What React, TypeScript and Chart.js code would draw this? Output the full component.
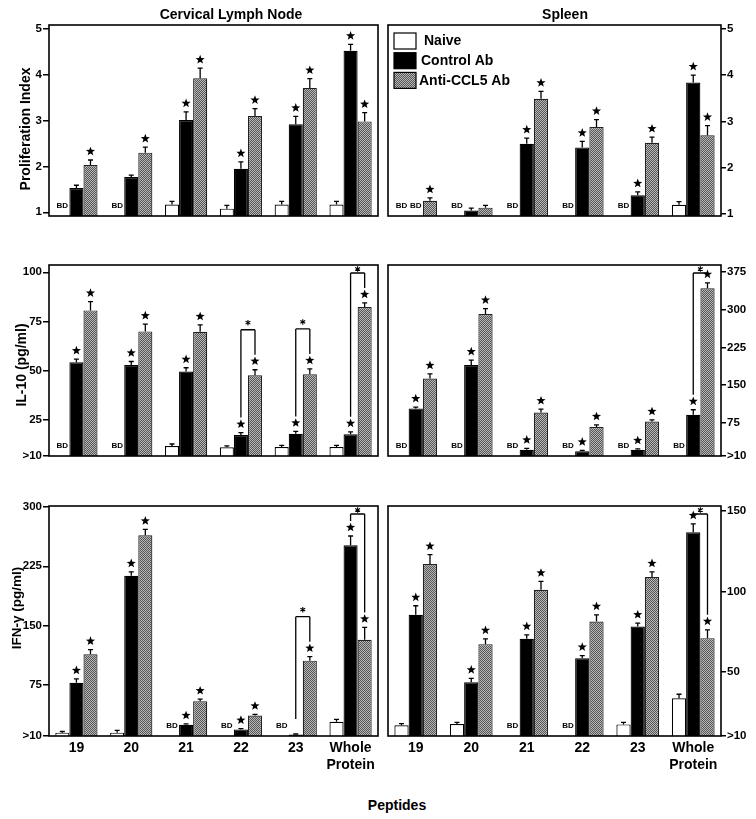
import React, { useEffect, useRef } from 'react';
import { Chart, registerables } from 'chart.js';
Chart.register(...registerables);

const FONT = '"Liberation Sans", Arial, Helvetica, sans-serif';

// ---------- categories / series ----------
const categories: (string | string[])[] = ['19', '20', '21', '22', '23', ['Whole', 'Protein']];
const seriesNames = ['Naive', 'Control Ab', 'Anti-CCL5 Ab'];

// ---------- Proliferation index, Cervical Lymph Node ----------
const prolifCLN_naive = [null, null, 1.17, 1.08, 1.17, 1.17];
const prolifCLN_naiveErr = [0, 0, 0.07, 0.07, 0.07, 0.07];
const prolifCLN_control = [1.53, 1.77, 3.01, 1.95, 2.92, 4.52];
const prolifCLN_controlErr = [0.06, 0.04, 0.18, 0.15, 0.17, 0.14];
const prolifCLN_anti = [2.03, 2.3, 3.92, 3.1, 3.71, 2.98];
const prolifCLN_antiErr = [0.11, 0.12, 0.22, 0.16, 0.2, 0.19];
const prolifCLN_controlStar = [0, 0, 1, 1, 1, 1];
const prolifCLN_antiStar = [1, 1, 1, 1, 1, 1];
const prolifCLN_brackets: number[] = [];

// ---------- Proliferation index, Spleen ----------
const prolifSpl_naive = [null, null, null, null, null, 1.2];
const prolifSpl_naiveErr = [0, 0, 0, 0, 0, 0.07];
const prolifSpl_control = [null, 1.08, 2.52, 2.44, 1.41, 3.84];
const prolifSpl_controlErr = [0, 0.05, 0.12, 0.13, 0.07, 0.16];
const prolifSpl_anti = [1.29, 1.14, 3.49, 2.88, 2.54, 2.7];
const prolifSpl_antiErr = [0.06, 0.05, 0.16, 0.16, 0.12, 0.21];
const prolifSpl_controlStar = [0, 0, 1, 1, 1, 1];
const prolifSpl_antiStar = [1, 0, 1, 1, 1, 1];
const prolifSpl_brackets: number[] = [];

const prolifTicks = [1, 2, 3, 4, 5];
const prolifTickLabels = ['1', '2', '3', '4', '5'];

// ---------- IL-10, Cervical Lymph Node ----------
const il10CLN_naive = [null, null, 11.6, 10.9, 11.1, 11.1];
const il10CLN_naiveErr = [0, 0, 1, 0.8, 0.8, 0.8];
const il10CLN_control = [54.2, 52.8, 49.5, 17.2, 17.8, 17.6];
const il10CLN_controlErr = [1.6, 1.8, 1.9, 1.2, 1.2, 1.2];
const il10CLN_anti = [80.6, 69.9, 69.7, 47.6, 48.1, 82.3];
const il10CLN_antiErr = [4.5, 3.7, 3.5, 2.8, 2.7, 2.1];
const il10CLN_controlStar = [1, 1, 1, 1, 1, 1];
const il10CLN_antiStar = [1, 1, 1, 1, 1, 1];
const il10CLN_brackets = [3, 4, 5];
const il10CLNTicks = [6.5, 25, 50, 75, 100];
const il10CLNTickLabels = ['>10', '25', '50', '75', '100'];

// ---------- IL-10, Spleen ----------
const il10Spl_naive = [null, null, null, null, null, null];
const il10Spl_naiveErr = [0, 0, 0, 0, 0, 0];
const il10Spl_control = [103.7, 190, 21.4, 18.6, 21.4, 91.1];
const il10Spl_controlErr = [2.7, 9.8, 2.7, 1.6, 1.6, 9.9];
const il10Spl_anti = [163, 291.5, 95.5, 66.8, 77.4, 342.6];
const il10Spl_antiErr = [9.3, 10.9, 6.6, 4, 3.3, 10.9];
const il10Spl_controlStar = [1, 1, 1, 1, 1, 1];
const il10Spl_antiStar = [1, 1, 1, 1, 1, 1];
const il10Spl_brackets = [5];
const il10SplTicks = [9, 75, 150, 225, 300, 375];
const il10SplTickLabels = ['>10', '75', '150', '225', '300', '375'];

// ---------- IFN-gamma, Cervical Lymph Node ----------
const ifnCLN_naive = [15.2, 15.2, null, null, null, 29];
const ifnCLN_naiveErr = [1.5, 2.9, 0, 0, 0, 3];
const ifnCLN_control = [78, 212.9, 25.2, 19.3, 13, 251.5];
const ifnCLN_controlErr = [5, 5, 1, 1, 0.5, 11.7];
const ifnCLN_anti = [114, 264, 54.9, 36.9, 106, 132.4];
const ifnCLN_antiErr = [5.9, 7.5, 2.5, 1.3, 5, 15.5];
const ifnCLN_controlStar = [1, 1, 1, 1, 0, 1];
const ifnCLN_antiStar = [1, 1, 1, 1, 1, 1];
const ifnCLN_brackets = [4, 5];
const ifnCLNTicks = [11, 75, 150, 225, 300];
const ifnCLNTickLabels = ['>10', '75', '150', '225', '300'];

// ---------- IFN-gamma, Spleen ----------
const ifnSpl_naive = [17, 17.7, null, null, 17.5, 33.7];
const ifnSpl_naiveErr = [1, 1, 0, 0, 1.2, 2.5];
const ifnSpl_control = [85.5, 43.6, 70.6, 58.6, 78.2, 136.7];
const ifnSpl_controlErr = [5.6, 2.5, 2.5, 1.6, 2.1, 5.2];
const ifnSpl_anti = [117, 67.3, 101, 81.3, 109, 71];
const ifnSpl_antiErr = [5.8, 3.3, 5.2, 4.2, 3.1, 5.2];
const ifnSpl_controlStar = [1, 1, 1, 1, 1, 1];
const ifnSpl_antiStar = [1, 1, 1, 1, 1, 1];
const ifnSpl_brackets = [5];
const ifnSplTicks = [10.3, 50, 100, 150];
const ifnSplTickLabels = ['>10', '50', '100', '150'];

const CAT_PCT = 0.77;

function makePattern(): any {
  const c = document.createElement('canvas');
  c.width = 2;
  c.height = 2;
  const x = c.getContext('2d')!;
  x.fillStyle = '#b8b8b8';
  x.fillRect(0, 0, 2, 2);
  x.fillStyle = '#555555';
  x.fillRect(0, 0, 1, 1);
  x.fillRect(1, 1, 1, 1);
  return x.createPattern(c, 'repeat');
}

function drawStar(ctx: CanvasRenderingContext2D, cx: number, cy: number, R: number) {
  const r = R * 0.42;
  ctx.beginPath();
  for (let k = 0; k < 10; k++) {
    const ang = -Math.PI / 2 + (k * Math.PI) / 5;
    const rad = k % 2 === 0 ? R : r;
    const px = cx + rad * Math.cos(ang);
    const py = cy + rad * Math.sin(ang);
    if (k === 0) ctx.moveTo(px, py);
    else ctx.lineTo(px, py);
  }
  ctx.closePath();
  ctx.fill();
}

function drawAsterisk(ctx: CanvasRenderingContext2D, cx: number, cy: number, r: number) {
  ctx.beginPath();
  for (let k = 0; k < 3; k++) {
    const ang = Math.PI / 2 + (k * Math.PI) / 3;
    ctx.moveTo(cx + r * Math.cos(ang), cy + r * Math.sin(ang));
    ctx.lineTo(cx - r * Math.cos(ang), cy - r * Math.sin(ang));
  }
  ctx.stroke();
}

type PanelProps = {
  side: 'left' | 'right';
  top: number;
  height: number;
  showX: boolean;
  values: (number | null)[][];
  errors: number[][];
  stars: number[][];
  brackets: number[];
  min: number;
  max: number;
  ticks: number[];
  tickLabels: string[];
  legend?: boolean;
};

function Panel(p: PanelProps) {
  const ref = useRef<HTMLCanvasElement>(null);
  const width = p.side === 'left' ? 380 : 376;
  const left = p.side === 'left' ? 0 : 380;

  useEffect(() => {
    const pattern = makePattern();
    const fills = ['#ffffff', '#000000', pattern];
    const borders = ['#000000', '#000000', '#222222'];

    const annot = {
      id: 'annot',
      afterDatasetsDraw(chart: any) {
        const ctx: CanvasRenderingContext2D = chart.ctx;
        const a = chart.chartArea;
        const xs = chart.scales.x;
        const ys = chart.scales.y;
        const n = categories.length;
        const catW = (a.right - a.left) / n;
        const barW = (catW * CAT_PCT) / 3;
        const bx = (i: number, j: number) => xs.getPixelForValue(j) + (i - 1) * barW;
        const errTop = (i: number, j: number) => {
          const v = p.values[i][j];
          if (v == null) return a.bottom;
          return ys.getPixelForValue(v + (p.errors[i][j] || 0));
        };
        ctx.save();
        ctx.strokeStyle = '#000';
        ctx.fillStyle = '#000';
        ctx.lineWidth = 1.3;
        for (let i = 0; i < 3; i++) {
          for (let j = 0; j < n; j++) {
            const v = p.values[i][j];
            const x = bx(i, j);
            if (v == null) {
              if (i < 2) {
                ctx.font = `bold 8px ${FONT}`;
                ctx.textAlign = 'center';
                ctx.textBaseline = 'middle';
                ctx.fillText('BD', x, a.bottom - 10);
              }
              continue;
            }
            const e = p.errors[i][j] || 0;
            const y0 = ys.getPixelForValue(v);
            const y1 = ys.getPixelForValue(v + e);
            if (e > 0) {
              ctx.beginPath();
              ctx.moveTo(x, y0);
              ctx.lineTo(x, y1);
              ctx.moveTo(x - 2.5, y1);
              ctx.lineTo(x + 2.5, y1);
              ctx.stroke();
            }
            if (i > 0 && p.stars[i - 1][j]) {
              drawStar(ctx, x, y1 - 8.5, 4.8);
            }
          }
        }
        // significance brackets between control and anti-CCL5
        p.brackets.forEach((j) => {
          const xc = bx(1, j);
          const xa = bx(2, j);
          const tc = errTop(1, j);
          const ta = errTop(2, j);
          const yb = Math.max(a.top + 8, Math.min(tc, ta) - 40);
          ctx.lineWidth = 1.3;
          ctx.beginPath();
          ctx.moveTo(xc, yb);
          ctx.lineTo(xa, yb);
          if (tc - 15 > yb) {
            ctx.moveTo(xc, yb);
            ctx.lineTo(xc, tc - 15);
          }
          if (ta - 15 > yb) {
            ctx.moveTo(xa, yb);
            ctx.lineTo(xa, ta - 15);
          }
          ctx.stroke();
          ctx.lineWidth = 1.1;
          drawAsterisk(ctx, (xc + xa) / 2, Math.max(a.top + 4, yb - 7), 2.8);
        });
        ctx.restore();
      },
      afterDraw(chart: any) {
        const ctx: CanvasRenderingContext2D = chart.ctx;
        const a = chart.chartArea;
        ctx.save();
        ctx.strokeStyle = '#000';
        ctx.lineWidth = 1.6;
        ctx.strokeRect(a.left, a.top, a.right - a.left, a.bottom - a.top);
        if (p.legend) {
          const bxL = a.left + 6;
          const pitch = 19.7;
          const textOff = [8, 5, 3];
          for (let i = 0; i < 3; i++) {
            const y0 = a.top + 8 + i * pitch;
            ctx.fillStyle = fills[i];
            ctx.fillRect(bxL, y0, 22, 16);
            ctx.lineWidth = 1.2;
            ctx.strokeStyle = '#000';
            ctx.strokeRect(bxL, y0, 22, 16);
            ctx.fillStyle = '#000';
            ctx.font = `bold 14px ${FONT}`;
            ctx.textAlign = 'left';
            ctx.textBaseline = 'middle';
            ctx.fillText(seriesNames[i], bxL + 22 + textOff[i], y0 + 8.5);
          }
        }
        ctx.restore();
      },
    };

    const chart = new Chart(ref.current!, {
      type: 'bar',
      data: {
        labels: categories as any,
        datasets: p.values.map((d, i) => ({
          label: seriesNames[i],
          data: d as any,
          backgroundColor: fills[i],
          borderColor: borders[i],
          borderWidth: 1.2,
          categoryPercentage: CAT_PCT,
          barPercentage: 1,
        })),
      },
      options: {
        responsive: false,
        animation: false,
        events: [],
        layout: {
          padding: {
            left: p.side === 'left' ? 0 : 8,
            right: p.side === 'left' ? 2 : 0,
            top: 10,
            bottom: p.showX ? 0 : 10,
          },
        },
        plugins: { legend: { display: false }, tooltip: { enabled: false } },
        scales: {
          x: {
            display: p.showX,
            grid: { display: false, drawTicks: false },
            border: { display: false },
            ticks: {
              color: '#000',
              font: { family: FONT, size: 14, weight: 'bold' },
              padding: 4,
              maxRotation: 0,
              autoSkip: false,
            },
            afterFit: (s: any) => {
              s.height = 40;
            },
          } as any,
          y: {
            position: p.side,
            min: p.min,
            max: p.max,
            afterBuildTicks: (s: any) => {
              s.ticks = p.ticks.map((v) => ({ value: v }));
            },
            ticks: {
              autoSkip: false,
              color: '#000',
              font: { family: FONT, size: 11.5, weight: 'bold' },
              padding: 1,
              callback: (v: any) => {
                const k = p.ticks.findIndex((t) => Math.abs(t - Number(v)) < 1e-6);
                return k >= 0 ? p.tickLabels[k] : '';
              },
            },
            grid: {
              drawOnChartArea: false,
              drawTicks: true,
              tickLength: p.side === 'left' ? 6 : 5,
              color: '#000',
              lineWidth: 1.5,
            },
            border: { display: false },
            afterFit: (s: any) => {
              s.width = p.side === 'left' ? 49 : 35;
            },
          } as any,
        },
      },
      plugins: [annot as any],
    });
    return () => chart.destroy();
  }, []);

  return (
    <canvas
      ref={ref}
      width={width}
      height={p.height}
      style={{ position: 'absolute', left, top: p.top, width, height: p.height }}
    />
  );
}

const textStyle: React.CSSProperties = {
  position: 'absolute',
  fontFamily: FONT,
  fontWeight: 'bold',
  fontSize: 14,
  color: '#000',
  whiteSpace: 'nowrap',
  transform: 'translate(-50%, -50%)',
  lineHeight: 1,
};

const vText = (x: number, y: number, size = 14): React.CSSProperties => ({
  ...textStyle,
  fontSize: size,
  left: x,
  top: y,
  transform: 'translate(-50%, -50%) rotate(-90deg)',
});

export default function App() {
  return (
    <div style={{ position: 'absolute', left: 0, top: 0, width: 756, height: 819, background: '#fff', overflow: 'hidden' }}>
      <Panel
        side="left" top={15} height={251} showX={false}
        values={[prolifCLN_naive, prolifCLN_control, prolifCLN_anti]}
        errors={[prolifCLN_naiveErr, prolifCLN_controlErr, prolifCLN_antiErr]}
        stars={[prolifCLN_controlStar, prolifCLN_antiStar]}
        brackets={prolifCLN_brackets}
        min={0.92} max={5.08} ticks={prolifTicks} tickLabels={prolifTickLabels}
      />
      <Panel
        side="right" top={15} height={251} showX={false}
        values={[prolifSpl_naive, prolifSpl_control, prolifSpl_anti]}
        errors={[prolifSpl_naiveErr, prolifSpl_controlErr, prolifSpl_antiErr]}
        stars={[prolifSpl_controlStar, prolifSpl_antiStar]}
        brackets={prolifSpl_brackets}
        min={0.96} max={5.08} ticks={prolifTicks} tickLabels={prolifTickLabels}
        legend
      />
      <Panel
        side="left" top={255} height={251} showX={false}
        values={[il10CLN_naive, il10CLN_control, il10CLN_anti]}
        errors={[il10CLN_naiveErr, il10CLN_controlErr, il10CLN_antiErr]}
        stars={[il10CLN_controlStar, il10CLN_antiStar]}
        brackets={il10CLN_brackets}
        min={6.5} max={103.7} ticks={il10CLNTicks} tickLabels={il10CLNTickLabels}
      />
      <Panel
        side="right" top={255} height={251} showX={false}
        values={[il10Spl_naive, il10Spl_control, il10Spl_anti]}
        errors={[il10Spl_naiveErr, il10Spl_controlErr, il10Spl_antiErr]}
        stars={[il10Spl_controlStar, il10Spl_antiStar]}
        brackets={il10Spl_brackets}
        min={9} max={389} ticks={il10SplTicks} tickLabels={il10SplTickLabels}
      />
      <Panel
        side="left" top={496} height={280} showX={true}
        values={[ifnCLN_naive, ifnCLN_control, ifnCLN_anti]}
        errors={[ifnCLN_naiveErr, ifnCLN_controlErr, ifnCLN_antiErr]}
        stars={[ifnCLN_controlStar, ifnCLN_antiStar]}
        brackets={ifnCLN_brackets}
        min={11} max={301} ticks={ifnCLNTicks} tickLabels={ifnCLNTickLabels}
      />
      <Panel
        side="right" top={496} height={280} showX={true}
        values={[ifnSpl_naive, ifnSpl_control, ifnSpl_anti]}
        errors={[ifnSpl_naiveErr, ifnSpl_controlErr, ifnSpl_antiErr]}
        stars={[ifnSpl_controlStar, ifnSpl_antiStar]}
        brackets={ifnSpl_brackets}
        min={10.3} max={153} ticks={ifnSplTicks} tickLabels={ifnSplTickLabels}
      />
      <div style={{ ...textStyle, left: 231, top: 14 }}>Cervical Lymph Node</div>
      <div style={{ ...textStyle, left: 565, top: 14 }}>Spleen</div>
      <div style={vText(25, 129)}>Proliferation Index</div>
      <div style={vText(21, 365)}>IL-10 (pg/ml)</div>
      <div style={vText(17, 608, 13.5)}>IFN-γ (pg/ml)</div>
      <div style={{ ...textStyle, left: 397, top: 805 }}>Peptides</div>
    </div>
  );
}
